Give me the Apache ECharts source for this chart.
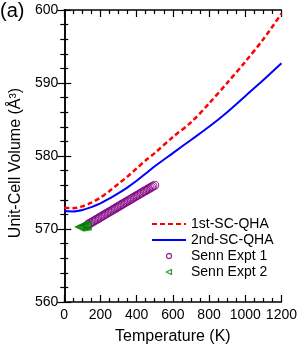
<!DOCTYPE html>
<html>
<head>
<meta charset="utf-8">
<script src="https://cdn.jsdelivr.net/npm/echarts@6/dist/echarts.min.js"></script>
<style>html,body{margin:0;padding:0;background:#fff}#c{width:300px;height:350px}</style>
</head>
<body>
<div id="c"></div>
<script>
// Theory curves
const qhaT = [0, 50, 100, 150, 200, 250, 300, 350, 400, 450, 500, 600, 700, 800, 900, 1000, 1100, 1200];
const qha1V = [572.9, 572.85, 573.1, 573.6, 574.3, 575.2, 576.2, 577.2, 578.3, 579.4, 580.4, 582.6, 584.6, 587.2, 590.0, 592.9, 596.0, 599.5];
const qha2V = [572.45, 572.4, 572.6, 573.0, 573.5, 574.2, 574.9, 575.7, 576.6, 577.6, 578.6, 580.4, 582.2, 584.0, 586.0, 588.2, 590.4, 592.7];
// Experiment 1
const exp1T = [130,138,146,154,162,170,178,186,194,202,210,218,226,234,242,250,258,266,274,282,290,298,306,314,322,330,338,346,354,362,370,378,386,394,402,410,418,426,434,442,450,458,466,474,482,490,500];
const exp1V = [570.60,570.72,570.83,570.95,571.06,571.18,571.30,571.41,571.53,571.65,571.77,571.88,572.00,572.12,572.24,572.35,572.47,572.59,572.71,572.82,572.94,573.06,573.18,573.30,573.41,573.53,573.65,573.77,573.88,574.00,574.11,574.23,574.35,574.47,574.58,574.70,574.81,574.93,575.05,575.17,575.27,575.39,575.50,575.62,575.74,575.85,576.00];
// Experiment 2
const exp2T = [85, 92, 99, 106, 113, 120, 127];
const exp2V = [570.28, 570.31, 570.34, 570.37, 570.40, 570.43, 570.47];
const seriesNames = ['1st-SC-QHA', '2nd-SC-QHA', 'Senn Expt 1', 'Senn Expt 2'];

const zip = (a, b) => a.map((v, i) => [v, b[i]]);
const font = 'Liberation Sans, Arial, sans-serif';
const triLeft = 'path://M0,5 L10,0 L10,10 Z';

function axis(extra, split) {
  return Object.assign({
    type: 'value',
    axisLine: { lineStyle: { color: '#000', width: 1.5 } },
    axisTick: { inside: true, length: 7, lineStyle: { color: '#000', width: 1.2 } },
    minorTick: { show: true, splitNumber: split, length: 4, lineStyle: { color: '#000', width: 1.2 } },
    splitLine: { show: false },
    minorSplitLine: { show: false }
  }, extra);
}

const chart = echarts.init(document.getElementById('c'));
chart.setOption({
  animation: false,
  backgroundColor: '#fff',
  grid: { left: 60, right: 15, top: 10, bottom: 46 },
  xAxis: [
    axis({ min: 0, max: 1200, interval: 200, position: 'bottom',
      name: 'Temperature (K)', nameLocation: 'middle', nameGap: 27,
      nameTextStyle: { fontFamily: font, fontSize: 16, color: '#000' },
      axisLabel: { fontFamily: font, fontSize: 14, color: '#000', margin: 6, formatter: v => String(v) } }, 4),
    axis({ min: 0, max: 1200, interval: 200, position: 'top', axisLabel: { show: false } }, 4)
  ],
  yAxis: [
    axis({ min: 560, max: 600, interval: 10, position: 'left',
      name: 'Unit-Cell Volume (Å³)', nameLocation: 'middle', nameGap: 37,
      nameTextStyle: { fontFamily: font, fontSize: 16, color: '#000', padding: [0, 14, 0, 0] },
      axisLabel: { fontFamily: font, fontSize: 14, color: '#000', margin: 6 } }, 5),
    axis({ min: 560, max: 600, interval: 10, position: 'right', axisLabel: { show: false } }, 5)
  ],
  legend: {
    orient: 'vertical', left: 151, top: 217, padding: 0, itemWidth: 34, itemHeight: 5, itemGap: 2,
    itemTextGap: 3,
    textStyle: { fontFamily: font, fontSize: 14, color: '#000' },
    data: [
      { name: seriesNames[0], itemStyle: { opacity: 0 } },
      { name: seriesNames[1], itemStyle: { opacity: 0 } },
      { name: seriesNames[2], itemStyle: { color: '#fff', borderColor: '#800080', borderWidth: 1.3 } },
      { name: seriesNames[3], itemStyle: { color: '#fff', borderColor: '#008000', borderWidth: 1.3 } }
    ]
  },
  graphic: [{
    type: 'text', left: 0, top: 1,
    style: { text: '(a)', fontFamily: font, fontSize: 20, fill: '#000' }
  }],
  series: [
    { name: seriesNames[0], type: 'line', data: zip(qhaT, qha1V), symbol: 'none', smooth: 0.3,
      lineStyle: { color: '#ff0000', width: 2.5, type: [5, 3] }, itemStyle: { color: '#ff0000' }, z: 3 },
    { name: seriesNames[1], type: 'line', data: zip(qhaT, qha2V), symbol: 'none', smooth: 0.3,
      lineStyle: { color: '#0000ff', width: 2 }, itemStyle: { color: '#0000ff' }, z: 3 },
    { name: seriesNames[2], type: 'scatter', data: zip(exp1T, exp1V), symbol: 'circle', symbolSize: 8,
      itemStyle: { color: 'rgba(0,0,0,0)', borderColor: '#800080', borderWidth: 1.1 }, z: 4 },
    { name: seriesNames[3], type: 'scatter', data: zip(exp2T, exp2V), symbol: triLeft, symbolSize: 8,
      itemStyle: { color: 'rgba(0,0,0,0)', borderColor: '#008000', borderWidth: 1.3 }, z: 5 }
  ]
});
</script>
</body>
</html>
